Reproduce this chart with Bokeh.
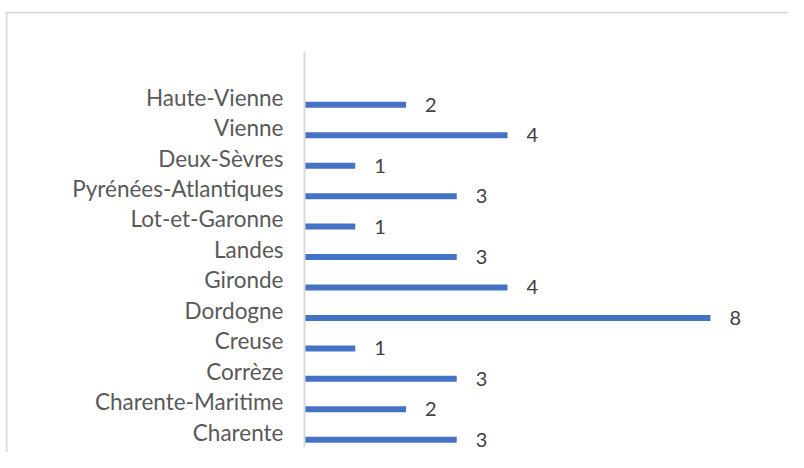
from bokeh.plotting import figure
from bokeh.models import ColumnDataSource, Range1d, FixedTicker, Span, LinearAxis
from bokeh.transform import dodge
from bokeh.core.properties import value
from bokeh.embed import file_html
from bokeh.resources import INLINE

departements = ["Charente", "Charente-Maritime", "Corrèze", "Creuse", "Dordogne",
                "Gironde", "Landes", "Lot-et-Garonne", "Pyrénées-Atlantiques",
                "Deux-Sèvres", "Vienne", "Haute-Vienne"]
nombres = [3, 2, 3, 1, 8, 4, 3, 1, 3, 1, 4, 2]

pos = list(range(len(departements)))
src = ColumnDataSource(dict(y=pos, v=nombres, lab=[str(n) for n in nombres]))

W, H = 788, 452
ML, MT = 5, 11
PX, PY = 50.75, 30.45
AX_TOP = 51
x0 = -(304 - ML) / PX
x1 = x0 + (W - ML) / PX
y1 = (len(departements) + 0.5) + (AX_TOP - MT) / PY
y0 = y1 - (H - MT) / PY

p = figure(width=W, height=H, output_backend="svg", toolbar_location=None,
           x_range=Range1d(x0, x1), y_range=Range1d(y0, y1),
           x_axis_location=None, y_axis_location=None,
           min_border_left=ML, min_border_right=0, min_border_top=MT, min_border_bottom=0)
p.outline_line_color = None
p.xgrid.visible = False
p.ygrid.visible = False
p.background_fill_color = "white"
p.border_fill_color = "white"

yax = LinearAxis(fixed_location=0)
yax.ticker = FixedTicker(ticks=pos)
yax.major_label_overrides = {i: d for i, d in zip(pos, departements)}
yax.bounds = (-0.5, len(departements) + 0.5)
yax.axis_line_color = "#d9d9d9"
yax.axis_line_width = 2
yax.major_tick_line_color = None
yax.minor_tick_line_color = None
yax.major_label_standoff = 15
yax.major_label_text_font = "Lato"
yax.major_label_text_font_size = "22.5px"
yax.major_label_text_color = "#595959"
p.add_layout(yax, "left")

p.hbar(y=dodge("y", -0.25, range=p.y_range), left=0, right="v", height=0.197,
       source=src, fill_color="#4472c4", line_color=None)
p.text(x="v", y=dodge("y", -0.25, range=p.y_range), text="lab", source=src,
       x_offset=19, y_offset=0, text_align="left", text_baseline="middle",
       text_font=value("Lato"), text_font_size="20px", text_color="#404040")

p.add_layout(Span(location=x0 + 1 / PX, dimension="height", line_color="#d9d9d9", line_width=2))
p.add_layout(Span(location=y1 - 1 / PY, dimension="width", line_color="#d9d9d9", line_width=2))

open("out.html", "w").write(file_html(p, INLINE))
